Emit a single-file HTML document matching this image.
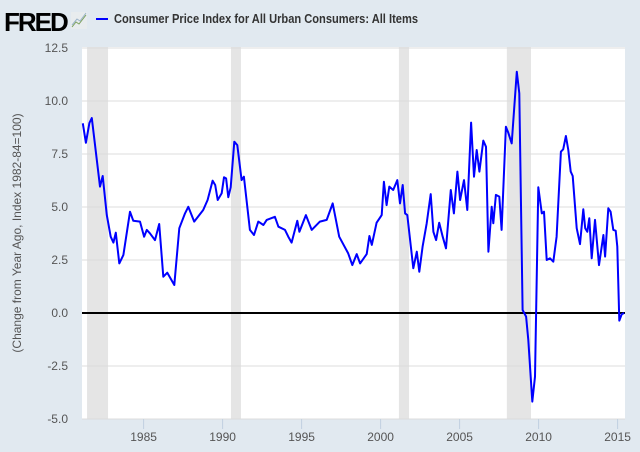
<!DOCTYPE html>
<html><head><meta charset="utf-8"><style>
html,body{margin:0;padding:0;background:#e1e9f0;}
svg{display:block;font-family:"Liberation Sans",sans-serif;}
</style></head><body>
<svg id="chart" width="640" height="452">
<rect x="0" y="0" width="640" height="452" fill="#e1e9f0"/>
<g>
<text x="4" y="31" font-size="26" font-weight="bold" fill="#000" letter-spacing="-2">FRED</text>
<g><rect x="71" y="12" width="16" height="17" fill="#e8ecee"/><polyline points="72,27 76,22 79,24 86,15" fill="none" stroke="#7aa05a" stroke-width="1"/><polyline points="72,25 77,19 80,21 86,13" fill="none" stroke="#9ab3c9" stroke-width="1"/></g>
<line x1="96" y1="19" x2="108" y2="19" stroke="#0000ff" stroke-width="2"/>
<text x="114" y="23" font-size="12.5" font-weight="bold" fill="#333" textLength="304" lengthAdjust="spacingAndGlyphs">Consumer Price Index for All Urban Consumers: All Items</text>
</g>
<rect x="82" y="47" width="543" height="372" fill="#fff"/>
<g id="rec"></g>
<g id="grid"></g>
<g id="yax"></g>
<g id="xax"></g>
<line id="zero" stroke="#000" stroke-width="2"/>
<path id="series" fill="none" stroke="#0000ff" stroke-width="2" stroke-linejoin="round"/>
<text transform="translate(21,233) rotate(-90)" text-anchor="middle" font-size="12" fill="#555">(Change from Year Ago, Index 1982-84=100)</text>
</svg>
<script>
const years=[1981.15,1981.35,1981.57,1981.72,1982.24,1982.41,1982.67,1982.92,1983.09,1983.24,1983.46,1983.72,1984.14,1984.35,1984.77,1985.03,1985.20,1985.40,1985.72,1985.99,1986.25,1986.50,1986.94,1987.26,1987.62,1987.83,1988.20,1988.77,1989.05,1989.37,1989.53,1989.69,1989.94,1990.09,1990.22,1990.36,1990.51,1990.74,1990.93,1991.20,1991.35,1991.73,1991.99,1992.26,1992.58,1992.79,1993.31,1993.53,1993.95,1994.16,1994.37,1994.73,1994.86,1995.27,1995.64,1996.16,1996.59,1996.97,1997.38,1997.95,1998.21,1998.49,1998.70,1999.12,1999.29,1999.44,1999.75,2000.07,2000.21,2000.38,2000.55,2000.80,2001.06,2001.23,2001.40,2001.55,2001.69,2002.07,2002.29,2002.45,2002.66,2002.92,2003.17,2003.34,2003.51,2003.71,2003.93,2004.14,2004.44,2004.64,2004.86,2005.03,2005.28,2005.49,2005.73,2005.91,2006.08,2006.25,2006.50,2006.67,2006.82,2007.03,2007.13,2007.30,2007.51,2007.66,2007.93,2008.08,2008.30,2008.62,2008.78,2008.99,2009.21,2009.35,2009.60,2009.77,2009.98,2010.20,2010.34,2010.51,2010.72,2010.93,2011.14,2011.41,2011.56,2011.73,2011.88,2012.03,2012.16,2012.41,2012.62,2012.83,2012.95,2013.08,2013.21,2013.36,2013.57,2013.82,2014.10,2014.21,2014.41,2014.56,2014.73,2014.88,2014.98,2015.11,2015.26,2015.41];
const values=[8.95,8.03,8.96,9.2,5.96,6.46,4.62,3.6,3.32,3.79,2.34,2.74,4.78,4.35,4.31,3.6,3.92,3.76,3.44,4.2,1.71,1.9,1.32,4.0,4.7,5.01,4.31,4.86,5.33,6.24,6.04,5.33,5.65,6.4,6.35,5.46,5.93,8.08,7.92,6.27,6.43,3.92,3.68,4.31,4.15,4.39,4.54,4.07,3.92,3.6,3.32,4.35,3.83,4.62,3.92,4.31,4.39,5.17,3.6,2.81,2.26,2.78,2.34,2.78,3.63,3.21,4.26,4.62,6.19,5.09,5.96,5.8,6.27,5.17,6.04,4.7,4.62,2.11,2.89,1.95,3.13,4.23,5.61,3.83,3.44,4.26,3.6,3.05,5.8,4.7,6.67,5.33,6.27,4.86,8.98,6.43,7.69,6.67,8.13,7.84,2.89,5.01,4.23,5.57,5.49,3.92,8.79,8.5,8.0,11.38,10.36,0.14,-0.17,-1.27,-4.18,-3.0,5.93,4.7,4.78,2.5,2.58,2.42,3.6,7.61,7.72,8.35,7.69,6.67,6.46,4.0,3.25,4.89,4.0,3.83,4.47,2.58,4.39,2.26,3.68,2.66,4.94,4.78,3.92,3.88,3.13,-0.36,-0.06,0.0];
const yTicks=[12.5,10.0,7.5,5.0,2.5,0.0,-2.5,-5.0];
const yTickLabels=["12.5","10.0","7.5","5.0","2.5","0.0","-2.5","-5.0"];
const xTicks=[1985,1990,1995,2000,2005,2010,2015];
const recStart=[1981.42,1990.53,2001.16,2007.99];
const recEnd=[1982.75,1991.16,2001.80,2009.52];
const NS='http://www.w3.org/2000/svg';
const X=y=>143.6+(y-1985)*15.8;
const Y=v=>313-(v)*21.2;
const rec=document.getElementById('rec'),grid=document.getElementById('grid'),yax=document.getElementById('yax'),xax=document.getElementById('xax');
recStart.forEach((s,i)=>{const r=document.createElementNS(NS,'rect');
r.setAttribute('x',X(s));r.setAttribute('y',47);r.setAttribute('width',X(recEnd[i])-X(s));r.setAttribute('height',372);r.setAttribute('fill','#e5e5e5');


rec.appendChild(r);});
yTicks.forEach((t,i)=>{const l=document.createElementNS(NS,'line');
l.setAttribute('x1',82);l.setAttribute('x2',625);l.setAttribute('y1',Y(t));l.setAttribute('y2',Y(t));l.setAttribute('stroke','#dcdcdc');l.setAttribute('stroke-width','1');


grid.appendChild(l);
const tx=document.createElementNS(NS,'text');
tx.setAttribute('x',68);tx.setAttribute('y',Y(t)+4);tx.setAttribute('text-anchor','end');tx.setAttribute('font-size','12');tx.setAttribute('fill','#555');tx.textContent=yTickLabels[i];


yax.appendChild(tx);});
xTicks.forEach(t=>{const l=document.createElementNS(NS,'line');
l.setAttribute('x1',X(t));l.setAttribute('x2',X(t));l.setAttribute('y1',419);l.setAttribute('y2',429);l.setAttribute('stroke','#c0d0e0');


xax.appendChild(l);
const tx=document.createElementNS(NS,'text');
tx.setAttribute('x',X(t));tx.setAttribute('y',441);tx.setAttribute('text-anchor','middle');tx.setAttribute('font-size','12');tx.setAttribute('fill','#555');tx.textContent=String(t);


xax.appendChild(tx);});
const z=document.getElementById('zero');
z.setAttribute('x1',82);z.setAttribute('x2',625);z.setAttribute('y1',Y(0));z.setAttribute('y2',Y(0));
document.getElementById('series').setAttribute('d',years.map((y,i)=>(i?'L':'M')+X(y).toFixed(1)+','+Y(values[i]).toFixed(1)).join(''));
</script>
</body></html>
